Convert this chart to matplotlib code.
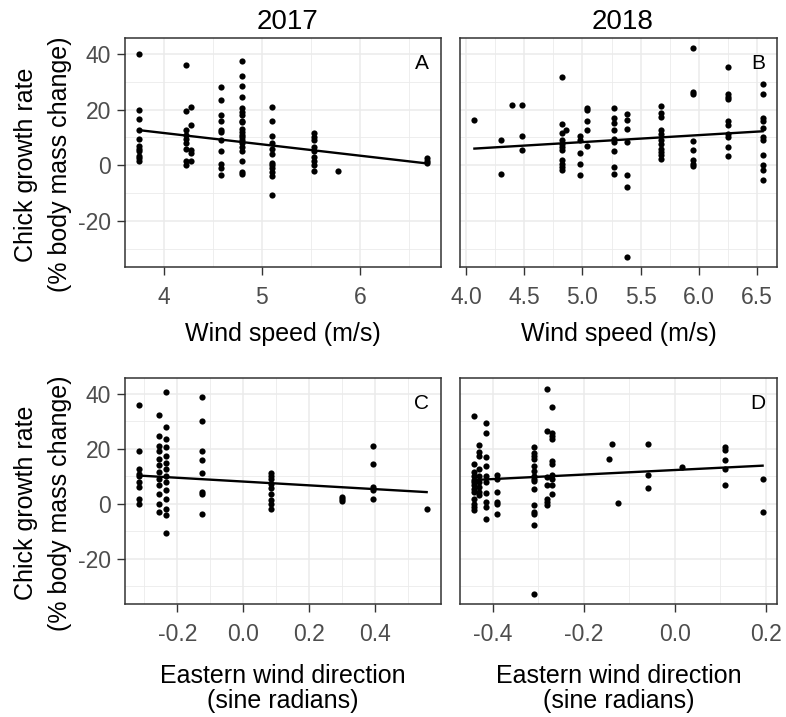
import numpy as np
import matplotlib
matplotlib.use("Agg")
import matplotlib.pyplot as plt
from matplotlib.ticker import MultipleLocator

plt.rcParams['font.family'] = ['Liberation Sans', 'DejaVu Sans']
plt.rcParams['axes.unicode_minus'] = False

# ---- data ----
# panel A: 2017, wind speed (m/s) vs growth rate
a_x = ([3.75] * 11 + [4.23] * 9 + [4.28] * 5 + [4.58] * 11 + [4.80] * 20
       + [5.10] * 12 + [5.53] * 9 + [5.78] + [6.68] * 3)
a_y = [40, 20, 16.5, 12.5, 9.5, 7, 6, 5, 3.5, 2.5, 1.5,
       36, 19.5, 12.5, 11, 9.5, 8, 6, 1.5, 0,
       21, 14.5, 5.5, 4.5, 1.5,
       28, 23.5, 18, 16, 12.5, 12, 9, 5, 0.5, -1, -3.5,
       37.5, 32, 28.5, 24.5, 20.5, 19, 18, 16, 15.5, 13, 12, 11, 10, 9, 8, 6.5, 5, 1.5, -3, -2.5,
       21, 16, 10.5, 8, 6, 4, 1, 0, -1, -2.5, -4, -10.5,
       11.5, 10, 9, 6.5, 5, 3, 1.5, 0, -2,
       -2,
       2.5, 1.5, 1]
a_fit_x = [3.75, 6.68]
a_fit_y = [12.6, 0.7]

# panel B: 2018, wind speed (m/s) vs growth rate
b_x = ([4.07] + [4.30] * 2 + [4.39] + [4.48] * 3 + [4.82] * 11 + [4.855]
       + [4.98] * 5 + [5.04] * 5 + [5.27] * 9 + [5.38] * 7 + [5.68] * 11
       + [5.95] * 8 + [6.25] * 10 + [6.55] * 11)
b_y = [16.2,
       9, -3,
       21.6,
       21.6, 10.5, 5.6,
       31.7, 14.7, 11.6, 9, 7.8, 6.6, 5.4, 1.8, 0.6, -0.6, -1.8,
       12.8,
       10.5, 9, 4.4, 0.6, -3.6,
       20.7, 19.8, 15.8, 12.8, 6.8,
       20.7, 17.1, 15, 12.6, 9.6, 8.4, 5.1, -0.6, -3,
       18.3, 16.4, 13.2, 8.4, -3.6, -7.8, -32.7,
       21.2, 18.6, 17.4, 12.8, 11.4, 9, 7.8, 6, 4.8, 3.6, 2.4,
       41.9, 26.3, 25.7, 8.7, 5.6, 2, 0.6, -0.4,
       35.1, 25.7, 24.5, 23.6, 15.9, 14.4, 11.4, 10, 6.6, 3.2,
       29.3, 25.4, 16.8, 15.9, 13.5, 10.2, 9, 3.8, 0, -1.8, -5.4]
b_fit_x = [4.07, 6.55]
b_fit_y = [6.0, 12.2]

# panel C: 2017, eastern wind direction vs growth rate
c_x = ([-0.315] * 9 + [-0.255] * 12 + [-0.235] * 14 + [-0.125] * 8
       + [0.085] * 9 + [0.30] * 3 + [0.393] * 5 + [0.555])
c_y = [35.9, 19.2, 12.6, 10.8, 10.2, 7.8, 6, 1.6, 0,
       32.3, 24.5, 21, 19.2, 16.2, 14, 11.4, 9, 6.6, 3.6, 0, -3,
       40.4, 28, 23.6, 20.4, 17.4, 14.7, 12.6, 10.2, 7.8, 4.8, 1.8, -1.8, -4, -10.8,
       38.7, 29.9, 19.2, 16, 11, 4.2, 3.6, -3.6,
       11, 10.2, 9, 7.2, 5.6, 3.6, 1.2, 0, -2,
       2.4, 1.6, 0.8,
       21.1, 14.4, 6, 5, 1.8,
       -2]
c_fit_x = [-0.315, 0.555]
c_fit_y = [10.2, 4.2]

# panel D: 2018, eastern wind direction vs growth rate
d_x = ([-0.44] * 13 + [-0.43] * 9 + [-0.415] * 10 + [-0.39] * 6 + [-0.31] * 15
       + [-0.28] * 7 + [-0.27] * 10 + [-0.145] + [-0.137] + [-0.125]
       + [-0.058] * 3 + [0.017] + [0.11] * 5 + [0.193] * 2)
d_y = [31.7, 14.4, 11.4, 10.2, 8.7, 7.8, 6.6, 5.4, 4.2, 1.8, 0, -1.2, -2.4,
       21.2, 18.8, 17.4, 12.6, 10.2, 7.8, 6, 4.2, 3,
       29.3, 25.5, 16.8, 13.8, 10.2, 8, 4, 0.6, -1.2, -5.4,
       10.5, 9, 4.2, 0.6, 0, -3.6,
       20.7, 18.3, 17.4, 16.2, 13.8, 12, 10.2, 9, 8.4, 5.4, -0.6, -3, -3.6, -7.8, -32.7,
       41.7, 26.3, 9.6, 6.8, 1.8, 0.6, -0.4,
       35, 25.7, 24.5, 23.6, 15.6, 14.4, 10.4, 9, 6.6, 3.6,
       16.2, 21.6, 0.4,
       21.6, 10.4, 5.6,
       13.2,
       20.7, 19.5, 15.8, 12.6, 6.6,
       9, -3]
d_fit_x = [-0.44, 0.193]
d_fit_y = [8.6, 13.8]

years = ['2017', '2018']
letters = ['A', 'B', 'C', 'D']
xlabels_top = 'Wind speed (m/s)'
xlabels_bottom = ['Eastern wind direction', '(sine radians)']
ylabel_lines = ['Chick growth rate', '(% body mass change)']

W, H = 786, 717
fig = plt.figure(figsize=(W / 100, H / 100), dpi=100)


def box(l, t, r, b):
    return [l / W, 1 - b / H, (r - l) / W, (b - t) / H]


def ftext(x, y, s, **kw):
    # place text using pixel coords measured from top-left
    fig.text(x / W, 1 - y / H, s, **kw)


bounds = [(125, 38, 441, 267), (460, 38, 777, 267),
          (125, 378, 441, 604), (460, 378, 777, 604)]
axes = [fig.add_axes(box(*b)) for b in bounds]

panels = [(a_x, a_y, a_fit_x, a_fit_y, 1.0),
          (b_x, b_y, b_fit_x, b_fit_y, 0.5),
          (c_x, c_y, c_fit_x, c_fit_y, 0.2),
          (d_x, d_y, d_fit_x, d_fit_y, 0.2)]

all_y = a_y + b_y + c_y + d_y
ylo, yhi = min(all_y), max(all_y)
ypad = (yhi - ylo) * 0.05

for i, (ax, (xs, ys, fx, fy, step)) in enumerate(zip(axes, panels)):
    ax.scatter(xs, ys, s=20, color='black', linewidths=0, zorder=3)
    ax.plot(fx, fy, color='black', lw=1.7, zorder=4)
    xpad = (max(xs) - min(xs)) * 0.05
    ax.set_xlim(min(xs) - xpad, max(xs) + xpad)
    ax.set_ylim(ylo - ypad, yhi + ypad)
    ax.xaxis.set_major_locator(MultipleLocator(step))
    ax.xaxis.set_minor_locator(MultipleLocator(step / 2))
    ax.yaxis.set_major_locator(MultipleLocator(20))
    ax.yaxis.set_minor_locator(MultipleLocator(10))
    ax.grid(which='major', color='#EBEBEB', lw=1.1, zorder=0)
    ax.grid(which='minor', color='#EBEBEB', lw=0.6, zorder=0)
    ax.set_axisbelow(True)
    for sp in ax.spines.values():
        sp.set_color('#333333')
        sp.set_linewidth(1.1)
    ax.tick_params(which='minor', length=0)
    ax.tick_params(which='major', length=5.5, width=1, color='#333333',
                   labelsize=16.5, labelcolor='#4D4D4D')
    ax.tick_params(axis='x', pad=8)
    ax.tick_params(axis='y', pad=4.5)
    if i % 2 == 1:
        ax.tick_params(axis='y', left=False, labelleft=False)
    ax.text(0.962, 0.93, letters[i], transform=ax.transAxes, ha='right', va='top',
            fontsize=15)

    l, t, r, b = bounds[i]
    cx = (l + r) / 2
    if i < 2:
        ftext(cx + 4, 29, years[i], ha='center', va='baseline', fontsize=20)
        ftext(cx, 341, xlabels_top, ha='center', va='baseline', fontsize=18)
    else:
        ftext(cx, 683, xlabels_bottom[0], ha='center', va='baseline', fontsize=18)
        ftext(cx, 708, xlabels_bottom[1], ha='center', va='baseline', fontsize=18)
    if i % 2 == 0:
        cy = (t + b) / 2 + 12
        ftext(33, cy, ylabel_lines[0], ha='center', va='baseline', rotation=90,
              rotation_mode='anchor', fontsize=18)
        ftext(67, cy, ylabel_lines[1], ha='center', va='baseline', rotation=90,
              rotation_mode='anchor', fontsize=18)

fig.savefig('out.png', dpi=100)
